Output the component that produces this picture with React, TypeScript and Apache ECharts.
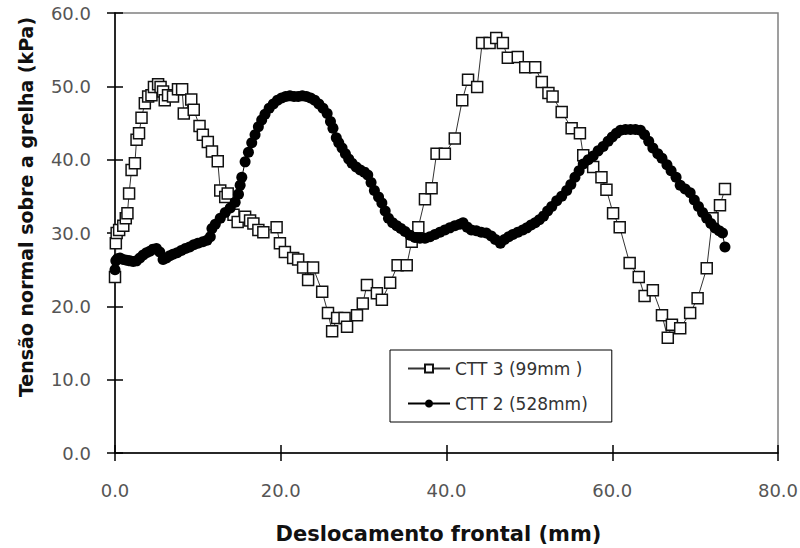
import React, { useEffect, useRef } from "react";
import * as echarts from "echarts";

const seriesNames = ["CTT 3 (99mm )", "CTT 2 (528mm)"];
const xAxisTitle = "Deslocamento frontal (mm)";
const yAxisTitle = "Tensão normal sobre a grelha (kPa)";
const xRange = [0, 80, 20];
const yRange = [0, 60, 10];

// CTT 3 (99mm) — [deslocamento, tensão]
const ctt3Points: [number, number][] = [
  [0.0, 24.0], [0.1, 28.6], [0.2, 30.0], [0.5, 30.4], [1.0, 31.0], [1.3, 32.0],
  [1.5, 32.7], [1.7, 35.4], [2.0, 38.6], [2.4, 39.5], [2.6, 42.7], [2.9, 43.6],
  [3.2, 45.7], [3.6, 47.7], [4.0, 48.6], [4.4, 48.8], [4.7, 49.9], [5.2, 50.3],
  [5.5, 49.9], [5.8, 49.3], [6.0, 48.1], [6.4, 48.8], [7.0, 48.6], [7.6, 49.6],
  [8.1, 49.6], [8.3, 46.3], [9.2, 48.2], [9.5, 46.8], [10.2, 44.6], [10.6, 43.4],
  [11.2, 42.4], [11.7, 41.1], [12.4, 39.8], [12.7, 35.8], [13.3, 34.9], [13.6, 35.4],
  [14.3, 32.5], [14.8, 31.5], [15.7, 32.2], [16.3, 31.7], [16.7, 31.3], [17.3, 30.4],
  [17.9, 30.1], [19.5, 30.8], [19.9, 28.6], [20.5, 27.4], [21.5, 26.6], [22.1, 26.4],
  [22.7, 25.3], [23.3, 23.6], [23.9, 25.3], [25.0, 22.0], [25.7, 19.1], [26.2, 16.6],
  [26.8, 18.4], [27.7, 18.4], [28.0, 17.2], [29.2, 18.8], [29.9, 20.4], [30.4, 22.9],
  [31.6, 21.8], [32.2, 20.9], [33.2, 23.2], [34.1, 25.6], [35.2, 25.6], [35.8, 28.8],
  [36.6, 30.8], [37.4, 34.6], [38.2, 36.1], [38.8, 40.8], [39.8, 40.8], [41.0, 42.9],
  [41.9, 48.1], [42.6, 50.9], [43.7, 49.9], [44.3, 55.9], [45.2, 55.9], [46.0, 56.6],
  [46.8, 55.9], [47.4, 53.9], [48.6, 54.0], [49.5, 52.6], [50.7, 52.6], [51.5, 50.6],
  [52.3, 49.1], [52.8, 48.6], [53.9, 46.5], [55.1, 44.3], [56.1, 43.6], [56.5, 40.6],
  [57.7, 39.0], [58.7, 37.6], [59.3, 35.9], [60.1, 32.7], [60.9, 30.8], [62.1, 25.9],
  [63.2, 24.0], [63.9, 21.4], [64.9, 22.2], [66.0, 18.8], [66.7, 15.7], [67.2, 17.5],
  [68.2, 17.0], [69.4, 19.1], [70.3, 21.1], [71.4, 25.2], [72.1, 32.0], [73.0, 33.8],
  [73.6, 36.0],
];

// CTT 2 (528mm) — [deslocamento, tensão]
const ctt2Points: [number, number][] = [
  [0.0, 25.0], [0.1, 26.2], [0.3, 26.5], [0.6, 26.6], [1.0, 26.4], [1.4, 26.3],
  [1.8, 26.2], [2.2, 26.1], [2.6, 26.2], [3.0, 26.6], [3.4, 27.0], [3.8, 27.3],
  [4.2, 27.5], [4.6, 27.8], [5.0, 27.9], [5.4, 27.4], [5.8, 26.4], [6.2, 26.6],
  [6.6, 26.9], [7.0, 27.1], [7.5, 27.3], [8.0, 27.6], [8.5, 27.9], [9.0, 28.1],
  [9.5, 28.4], [10.0, 28.6], [10.6, 28.8], [11.1, 29.0], [11.5, 29.5], [11.7, 30.6],
  [12.1, 31.2], [12.7, 32.0], [13.3, 32.8], [13.9, 33.4], [14.5, 34.2], [14.9, 35.3],
  [15.1, 36.5], [15.3, 37.6], [15.7, 39.7], [16.1, 41.0], [16.5, 42.3], [16.9, 43.4],
  [17.3, 44.5], [17.7, 45.4], [18.1, 46.2], [18.6, 47.0], [19.1, 47.6], [19.6, 48.1],
  [20.1, 48.4], [20.6, 48.6], [21.1, 48.7], [21.6, 48.6], [22.1, 48.6], [22.6, 48.7],
  [23.1, 48.6], [23.6, 48.4], [24.1, 48.1], [24.6, 47.6], [25.1, 47.0], [25.6, 46.3],
  [26.0, 45.2], [26.3, 44.3], [26.7, 43.0], [27.0, 42.3], [27.4, 41.6], [27.8, 40.8],
  [28.2, 40.1], [28.6, 39.5], [29.1, 39.0], [29.6, 38.6], [30.1, 38.3], [30.5, 37.9],
  [30.9, 36.9], [31.3, 35.8], [31.8, 34.9], [32.2, 34.1], [32.6, 33.0], [33.0, 32.0],
  [33.5, 31.4], [34.0, 31.0], [34.5, 30.6], [35.0, 30.2], [35.6, 29.7], [36.2, 29.4],
  [36.8, 29.3], [37.4, 29.3], [38.0, 29.5], [38.6, 29.8], [39.2, 30.1], [39.8, 30.4],
  [40.4, 30.7], [41.0, 31.0], [41.6, 31.2], [42.0, 31.4], [42.5, 30.8], [43.0, 30.4],
  [43.6, 30.3], [44.2, 30.1], [44.8, 30.0], [45.4, 29.6], [45.9, 29.1], [46.5, 28.6],
  [47.0, 29.1], [47.5, 29.5], [48.0, 29.8], [48.6, 30.1], [49.2, 30.4], [49.7, 30.7],
  [50.2, 31.1], [50.7, 31.4], [51.2, 31.8], [51.7, 32.3], [52.2, 33.0], [52.7, 33.6],
  [53.3, 34.4], [53.9, 35.0], [54.5, 35.8], [55.0, 36.6], [55.5, 37.6], [56.0, 38.5],
  [56.5, 39.4], [57.1, 40.0], [57.7, 40.5], [58.3, 41.2], [58.9, 41.8], [59.5, 42.5],
  [60.0, 43.1], [60.5, 43.6], [61.0, 44.0], [61.6, 44.1], [62.2, 44.1], [62.8, 44.1],
  [63.4, 44.0], [63.9, 43.4], [64.4, 42.5], [64.9, 41.6], [65.5, 40.8], [66.0, 40.2],
  [66.6, 39.3], [67.1, 38.5], [67.7, 37.6], [68.2, 36.5], [68.8, 36.0], [69.4, 35.5],
  [69.9, 34.5], [70.4, 33.6], [70.9, 32.8], [71.4, 32.0], [71.9, 31.3], [72.4, 30.7],
  [72.9, 30.3], [73.3, 30.0], [73.6, 28.1],
];

const labelFont = "'DejaVu Sans', sans-serif";

export default function App() {
  const ref = useRef<HTMLDivElement>(null);
  useEffect(() => {
    if (!ref.current) return;
    const chart = echarts.init(ref.current, null, { renderer: "svg" });
    const tickLen = 8;
    const baseX = {
      type: "value",
      min: xRange[0],
      max: xRange[1],
      interval: xRange[2],
      splitLine: { show: false },
    };
    const baseY = {
      type: "value",
      min: yRange[0],
      max: yRange[1],
      interval: yRange[2],
      splitLine: { show: false },
    };
    chart.setOption({
      animation: false,
      backgroundColor: "#ffffff",
      grid: {
        left: 115,
        right: 22,
        top: 13,
        bottom: 95,
        show: true,
        borderColor: "#808080",
        borderWidth: 1.5,
        backgroundColor: "transparent",
        outerBoundsMode: "none",
      },
      legend: {
        show: true,
        orient: "vertical",
        left: 390,
        top: 350,
        data: seriesNames,
        itemWidth: 42,
        itemHeight: 10,
        itemGap: 18,
        padding: [10, 24, 10, 17],
        borderColor: "#000",
        borderWidth: 1,
        backgroundColor: "#fff",
        textStyle: { fontFamily: labelFont, fontSize: 17, color: "#333" },
      },
      xAxis: [
        {
          ...baseX,
          position: "bottom",
          name: xAxisTitle,
          nameLocation: "middle",
          nameGap: 70,
          nameTextStyle: {
            fontFamily: labelFont,
            fontWeight: "bold",
            fontSize: 21,
            color: "#111",
            padding: [0, 16, 0, 0],
          },
          axisLine: { show: true, lineStyle: { color: "#000", width: 1.5 } },
          axisTick: { show: true, length: tickLen, inside: false, lineStyle: { color: "#000", width: 1.5 } },
          axisLabel: {
            margin: 28,
            fontFamily: labelFont,
            fontSize: 18,
            color: "#555",
            formatter: (v: number) => v.toFixed(1),
          },
        },
        {
          ...baseX,
          position: "bottom",
          axisLine: { show: false },
          axisTick: { show: true, length: tickLen, inside: true, lineStyle: { color: "#000", width: 1.5 } },
          axisLabel: { show: false },
        },
      ],
      yAxis: [
        {
          ...baseY,
          position: "left",
          name: yAxisTitle,
          nameLocation: "middle",
          nameGap: 80,
          nameRotate: 90,
          nameTextStyle: {
            fontFamily: labelFont,
            fontWeight: "bold",
            fontSize: 19,
            color: "#111",
            padding: [0, 0, 0, 52],
          },
          axisLine: { show: true, lineStyle: { color: "#000", width: 1.5 } },
          axisTick: { show: true, length: tickLen, inside: false, lineStyle: { color: "#000", width: 1.5 } },
          axisLabel: {
            margin: 24,
            fontFamily: labelFont,
            fontSize: 18,
            color: "#555",
            formatter: (v: number) => v.toFixed(1),
          },
        },
        {
          ...baseY,
          position: "left",
          axisLine: { show: false },
          axisTick: { show: true, length: tickLen, inside: true, lineStyle: { color: "#000", width: 1.5 } },
          axisLabel: { show: false },
        },
      ],
      series: [
        {
          name: seriesNames[0],
          type: "line",
          xAxisIndex: 0,
          yAxisIndex: 0,
          data: ctt3Points,
          symbol: "rect",
          symbolSize: 11,
          showAllSymbol: true,
          lineStyle: { color: "#333", width: 1 },
          itemStyle: { color: "#fff", borderColor: "#111", borderWidth: 1.5 },
          z: 2,
        },
        {
          name: seriesNames[1],
          type: "line",
          xAxisIndex: 0,
          yAxisIndex: 0,
          data: ctt2Points,
          symbol: "circle",
          symbolSize: 11,
          showAllSymbol: true,
          lineStyle: { color: "#000", width: 1 },
          itemStyle: { color: "#000", borderColor: "#000", borderWidth: 0 },
          z: 3,
        },
      ],
    });
    return () => chart.dispose();
  }, []);
  return (
    <div
      ref={ref}
      style={{ position: "fixed", left: 0, top: 0, width: 800, height: 548, background: "#fff" }}
    />
  );
}
